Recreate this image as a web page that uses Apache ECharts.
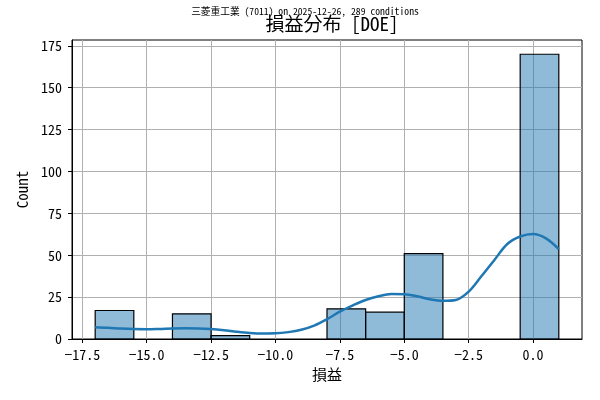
<!DOCTYPE html>
<html><head><meta charset="utf-8">
<script src="https://cdn.jsdelivr.net/npm/echarts@6/dist/echarts.min.js"></script>
<style>html,body{margin:0;padding:0;background:#fff}#c{width:600px;height:400px}</style>
</head><body><div id="c"></div>
<script>
const binEdges = [-17, -15.5, -14, -12.5, -11, -9.5, -8, -6.5, -5, -3.5, -2, -0.5, 1];
const counts = [17, 0, 15, 2, 0, 0, 18, 16, 51, 0, 0, 170];
const kdeX = [-17, -16.5, -16, -15.5, -15, -14.5, -14, -13.5, -13, -12.5, -12, -11.5, -11, -10.5, -10, -9.5, -9, -8.5, -8, -7.5, -7, -6.5, -6, -5.5, -5, -4.5, -4, -3.5, -3, -2.5, -2, -1.5, -1, -0.5, 0, 0.5, 1];
const kdeY = [7.0, 6.7, 6.2, 5.9, 5.8, 6.0, 6.3, 6.4, 6.3, 5.9, 5.2, 4.3, 3.6, 3.3, 3.4, 4.1, 5.5, 8.0, 11.8, 16.3, 20.0, 23.3, 25.5, 26.8, 26.7, 25.5, 23.7, 22.8, 23.3, 28.3, 37.6, 47.2, 56.7, 61.2, 62.7, 60.1, 53.6];
const xTicks = [-17.5, -15, -12.5, -10, -7.5, -5, -2.5, 0];
const yTicks = [0, 25, 50, 75, 100, 125, 150, 175];

const MONO = '"Noto Sans Mono CJK JP", "Noto Sans CJK JP", "DejaVu Sans Mono", monospace';
const bars = counts.map((c, i) => [binEdges[i], binEdges[i + 1], c]).filter(d => d[2] > 0);
const chart = echarts.init(document.getElementById('c'), null, {renderer: 'canvas'});
chart.setOption({
  animation: false,
  backgroundColor: '#fff',
  title: [
    {text: '三菱重工業 (7011) on 2025-12-26, 289 conditions', left: 300, top: 1, textAlign: 'center',
     textStyle: {fontSize: 9.7, fontWeight: 'normal', color: '#000', fontFamily: MONO}},
    {text: '損益分布 [DOE]', left: 327, top: 9, textAlign: 'center',
     textStyle: {fontSize: 19, fontWeight: 'normal', color: '#000', fontFamily: MONO}}
  ],
  grid: {left: 72, right: 18, top: 40, bottom: 61, show: true, borderColor: '#000', borderWidth: 1, backgroundColor: 'transparent'},
  xAxis: {
    type: 'value', min: -17.9, max: 1.9,
    name: '損益', nameLocation: 'middle', nameGap: 28,
    nameTextStyle: {fontSize: 15, color: '#000', fontFamily: MONO},
    axisLine: {show: true, onZero: false, lineStyle: {color: '#000'}},
    axisTick: {show: true, length: 4, lineStyle: {color: '#000'}, customValues: xTicks},
    axisLabel: {color: '#000', fontSize: 14, fontFamily: MONO, margin: 9, customValues: xTicks,
      formatter: v => v.toFixed(1).replace('-', '\u2212')},
    splitLine: {show: true, lineStyle: {color: '#b0b0b0', width: 1}, customValues: xTicks}
  },
  yAxis: {
    type: 'value', min: 0, max: 178.5,
    name: 'Count', nameLocation: 'middle', nameGap: 42,
    nameTextStyle: {fontSize: 15, color: '#000', fontFamily: MONO},
    axisLine: {show: true, onZero: false, lineStyle: {color: '#000'}},
    axisTick: {show: true, length: 4, lineStyle: {color: '#000'}, customValues: yTicks},
    axisLabel: {color: '#000', fontSize: 14, fontFamily: MONO, margin: 10, customValues: yTicks},
    splitLine: {show: true, lineStyle: {color: '#b0b0b0', width: 1}, customValues: yTicks}
  },
  series: [
    {
      type: 'custom',
      data: bars,
      encode: {x: [0, 1], y: 2},
      renderItem: function (params, api) {
        const p0 = api.coord([api.value(0), 0]);
        const p1 = api.coord([api.value(1), api.value(2)]);
        return {
          type: 'rect',
          shape: {x: p0[0], y: p1[1], width: p1[0] - p0[0], height: p0[1] - p1[1]},
          style: {fill: 'rgba(31,119,180,0.5)', stroke: '#000', lineWidth: 1.2}
        };
      },
      z: 2
    },
    {
      type: 'line',
      data: kdeX.map((x, i) => [x, kdeY[i]]),
      smooth: 0.35,
      showSymbol: false,
      lineStyle: {color: '#1f77b4', width: 2.5},
      z: 3
    }
  ]
});
</script></body></html>
